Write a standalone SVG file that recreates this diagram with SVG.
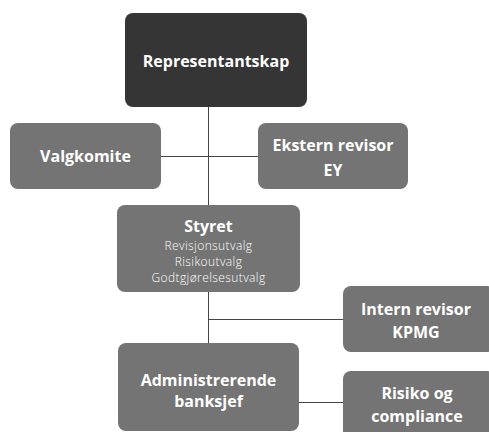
<svg xmlns="http://www.w3.org/2000/svg" width="489" height="432" viewBox="0 0 489 432">
<style>
.box{fill:#747474}
.dark{fill:#353535}
.t{font-family:"Open Sans","Noto Sans",sans-serif;font-weight:700;font-size:16px;fill:#ffffff;text-anchor:middle}
.s{font-family:"Open Sans","Noto Sans",sans-serif;font-weight:300;font-size:12px;letter-spacing:0.4px;fill:#ffffff;text-anchor:middle}
.c{stroke:#444444;stroke-width:1;fill:none}
</style>
<rect width="489" height="432" fill="#ffffff"/>
<g id="connectors">
<line class="c" x1="208.5" y1="107" x2="208.5" y2="205"/>
<line class="c" x1="161" y1="156.5" x2="258" y2="156.5"/>
<line class="c" x1="208.5" y1="292" x2="208.5" y2="343"/>
<line class="c" x1="208.5" y1="319.5" x2="343" y2="319.5"/>
<line class="c" x1="299" y1="402.5" x2="343" y2="402.5"/>
</g>
<g id="representantskap">
<rect class="dark" x="125" y="13" width="182" height="94" rx="8"/>
<text class="t" x="216" y="67">Representantskap</text>
</g>
<g id="valgkomite">
<rect class="box" x="10" y="123" width="151" height="66" rx="8"/>
<text class="t" x="85.5" y="162">Valgkomite</text>
</g>
<g id="ekstern">
<rect class="box" x="258" y="123" width="150" height="66" rx="8"/>
<text class="t" x="333" y="151">Ekstern revisor</text>
<text class="t" x="333" y="176">EY</text>
</g>
<g id="styret">
<rect class="box" x="117" y="205" width="183" height="87" rx="8"/>
<text class="t" x="208.5" y="232">Styret</text>
<text class="s" x="208.5" y="250">Revisjonsutvalg</text>
<text class="s" x="208.5" y="266">Risikoutvalg</text>
<text class="s" x="208.5" y="282">Godtgjørelsesutvalg</text>
</g>
<g id="intern">
<rect class="box" x="343" y="286" width="152" height="66" rx="8"/>
<text class="t" x="416" y="315">Intern revisor</text>
<text class="t" x="416" y="338">KPMG</text>
</g>
<g id="adm">
<rect class="box" x="118" y="343" width="181" height="88" rx="8"/>
<text class="t" x="208.5" y="386">Administrerende</text>
<text class="t" x="208.5" y="407">banksjef</text>
</g>
<g id="risiko">
<rect class="box" x="343" y="371" width="152" height="70" rx="8"/>
<text class="t" x="417" y="399">Risiko og</text>
<text class="t" x="417" y="422">compliance</text>
</g>
</svg>
